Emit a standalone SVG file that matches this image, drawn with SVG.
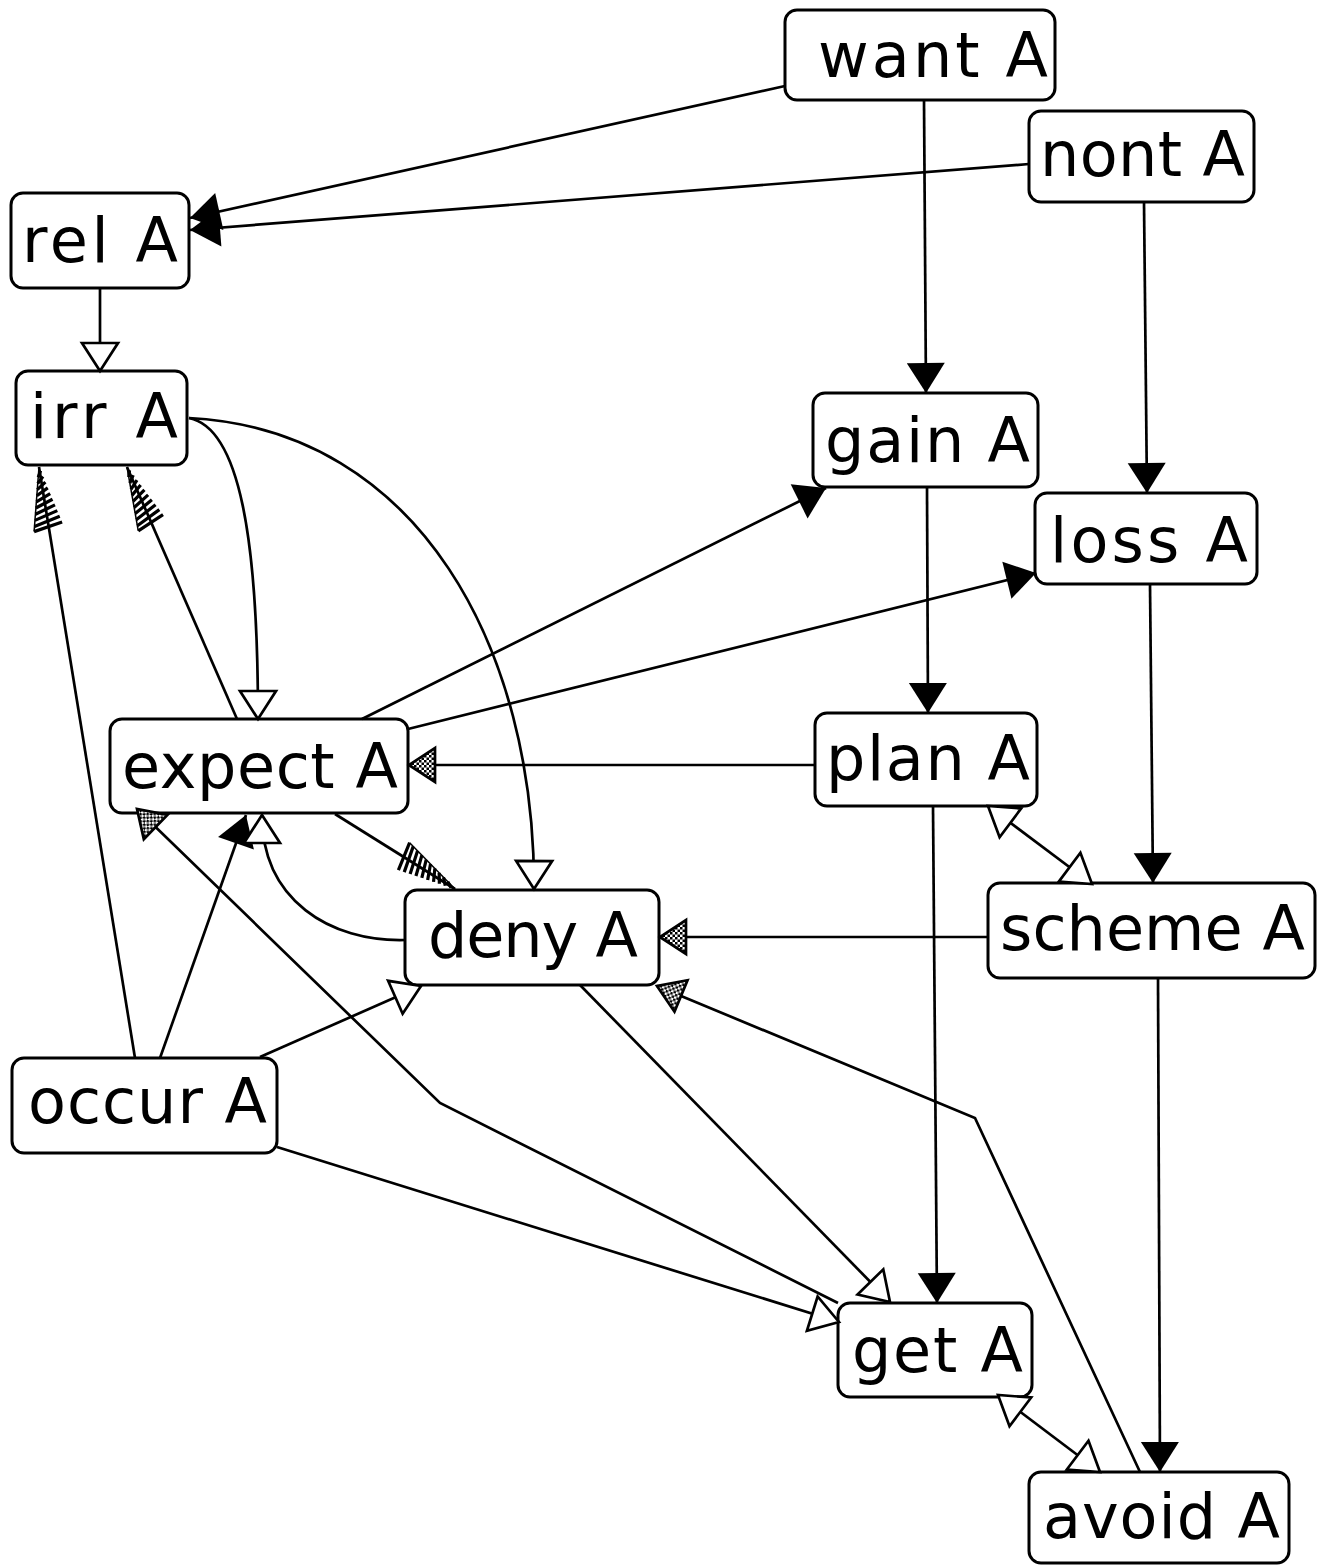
<svg xmlns="http://www.w3.org/2000/svg" width="1330" height="1566" viewBox="0 0 1330 1566">
<style>
.box{fill:#fff;stroke:#000;stroke-width:3}
.lbl{font-family:"DejaVu Sans","Liberation Sans",sans-serif;font-size:62px;fill:#000}
.c{fill:none;stroke:#000;stroke-width:2.7}
.f{marker-end:url(#mFill)}
.o{marker-end:url(#mOpen)}
.oo{marker-end:url(#mOpen);marker-start:url(#mOpenS)}
.h{marker-end:url(#mHatch)}
.s{marker-end:url(#mDots)}
</style>
<defs>
<pattern id="dots" patternUnits="userSpaceOnUse" width="5" height="5">
<rect x="0" y="0" width="5" height="5" fill="#fff"/>
<rect x="0" y="0" width="2.5" height="2.5" fill="#000"/>
<rect x="2.5" y="2.5" width="2.5" height="2.5" fill="#000"/>
</pattern>
<marker id="mFill" markerUnits="userSpaceOnUse" orient="auto" markerWidth="1" markerHeight="1" refX="0" refY="0" style="overflow:visible">
<path d="M0,0 L-30,-19 L-30,19 Z" fill="#000"/>
</marker>
<marker id="mOpen" markerUnits="userSpaceOnUse" orient="auto" markerWidth="1" markerHeight="1" refX="0" refY="0" style="overflow:visible">
<path d="M0,0 L-28,-18 L-28,18 Z" fill="#fff" stroke="#000" stroke-width="2.7"/>
</marker>
<marker id="mOpenS" markerUnits="userSpaceOnUse" orient="auto-start-reverse" markerWidth="1" markerHeight="1" refX="0" refY="0" style="overflow:visible">
<path d="M0,0 L-28,-18 L-28,18 Z" fill="#fff" stroke="#000" stroke-width="2.7"/>
</marker>
<marker id="mHatch" markerUnits="userSpaceOnUse" orient="auto" markerWidth="1" markerHeight="1" refX="0" refY="0" style="overflow:visible">
<path d="M-10,-2.4 L-4,1 M-16,-3.9 L-10,2.4 M-22,-5.3 L-16,3.9 M-28,-6.8 L-22,5.3 M-34,-8.2 L-28,6.8 M-40,-9.7 L-34,8.2 M-46,-11.1 L-40,9.7 M-52,-12.6 L-46,11.1 M-58,-14 L-52,12.6 M-63,-15.2 L-58,14" fill="none" stroke="#000" stroke-width="3.2"/>
<path d="M0,0 L-63,-15.2" fill="none" stroke="#000" stroke-width="1.5"/>
</marker>
<marker id="mDots" markerUnits="userSpaceOnUse" orient="auto" markerWidth="1" markerHeight="1" refX="0" refY="0" style="overflow:visible">
<path d="M0,0 L-26,-17 L-26,17 Z" fill="url(#dots)" stroke="#000" stroke-width="2.7"/>
</marker>
</defs>

<g id="nodes">
<g id="want"><rect class="box" x="785" y="10" width="270" height="90" rx="12"/><text class="lbl" x="818" y="77" textLength="230">want A</text></g>
<g id="nont"><rect class="box" x="1029" y="111" width="225" height="91" rx="12"/><text class="lbl" x="1040" y="176" textLength="205">nont A</text></g>
<g id="rel"><rect class="box" x="11" y="193" width="178" height="95" rx="12"/><text class="lbl" x="22" y="262" textLength="156">rel A</text></g>
<g id="irr"><rect class="box" x="16" y="371" width="171" height="94" rx="12"/><text class="lbl" x="30" y="438" textLength="148">irr A</text></g>
<g id="gain"><rect class="box" x="813" y="393" width="225" height="94" rx="12"/><text class="lbl" x="825" y="462" textLength="205">gain A</text></g>
<g id="loss"><rect class="box" x="1035" y="493" width="222" height="91" rx="12"/><text class="lbl" x="1050" y="562" textLength="198">loss A</text></g>
<g id="expect"><rect class="box" x="110" y="719" width="298" height="94" rx="12"/><text class="lbl" x="122" y="788" textLength="276">expect A</text></g>
<g id="plan"><rect class="box" x="815" y="713" width="222" height="93" rx="12"/><text class="lbl" x="826" y="780" textLength="204">plan A</text></g>
<g id="deny"><rect class="box" x="405" y="890" width="254" height="95" rx="12"/><text class="lbl" x="428" y="957" textLength="210">deny A</text></g>
<g id="scheme"><rect class="box" x="988" y="883" width="327" height="95" rx="12"/><text class="lbl" x="1000" y="950" textLength="305">scheme A</text></g>
<g id="occur"><rect class="box" x="12" y="1058" width="265" height="95" rx="12"/><text class="lbl" x="28" y="1123" textLength="239">occur A</text></g>
<g id="get"><rect class="box" x="838" y="1303" width="194" height="94" rx="12"/><text class="lbl" x="852" y="1372" textLength="171">get A</text></g>
<g id="avoid"><rect class="box" x="1029" y="1472" width="260" height="91" rx="12"/><text class="lbl" x="1043" y="1538" textLength="237">avoid A</text></g>
</g>

<g id="connectors">
<path class="c f" d="M785,86 L190,218"/>
<path class="c f" d="M1029,164 L190,230"/>
<path class="c f" d="M924,100 L926,393"/>
<path class="c f" d="M1144,202 L1147,493"/>
<path class="c o" d="M100,288 L100,371"/>
<path class="c o" d="M189,418 C240,428 258,540 258,719"/>
<path class="c o" d="M189,418 C420,430 535,650 534,889"/>
<path class="c h" d="M237,719 L127,467"/>
<path class="c h" d="M135,1058 L39,467"/>
<path class="c f" d="M160,1058 L246,815"/>
<path class="c o" d="M405,940 C330,942 262,900 262,815"/>
<path class="c h" d="M335,814 L455,889"/>
<path class="c s" d="M815,765 L409,765"/>
<path class="c f" d="M362,719 L826,488"/>
<path class="c f" d="M408,729 L1036,573"/>
<path class="c f" d="M927,487 L928,713"/>
<path class="c f" d="M1150,584 L1153,883"/>
<path class="c oo" d="M988,806 L1092,884"/>
<path class="c s" d="M988,937 L660,937"/>
<path class="c f" d="M1158,978 L1160,1472"/>
<path class="c f" d="M933,806 L937,1303"/>
<path class="c oo" d="M998,1395 L1100,1472"/>
<path class="c s" d="M1140,1472 L975,1118 L657,986"/>
<path class="c o" d="M580,985 L890,1302"/>
<path class="c o" d="M260,1057 L421,986"/>
<path class="c o" d="M277,1147 L839,1322"/>
<path class="c s" d="M838,1303 L440,1103 L137,809"/>
</g>
</svg>
